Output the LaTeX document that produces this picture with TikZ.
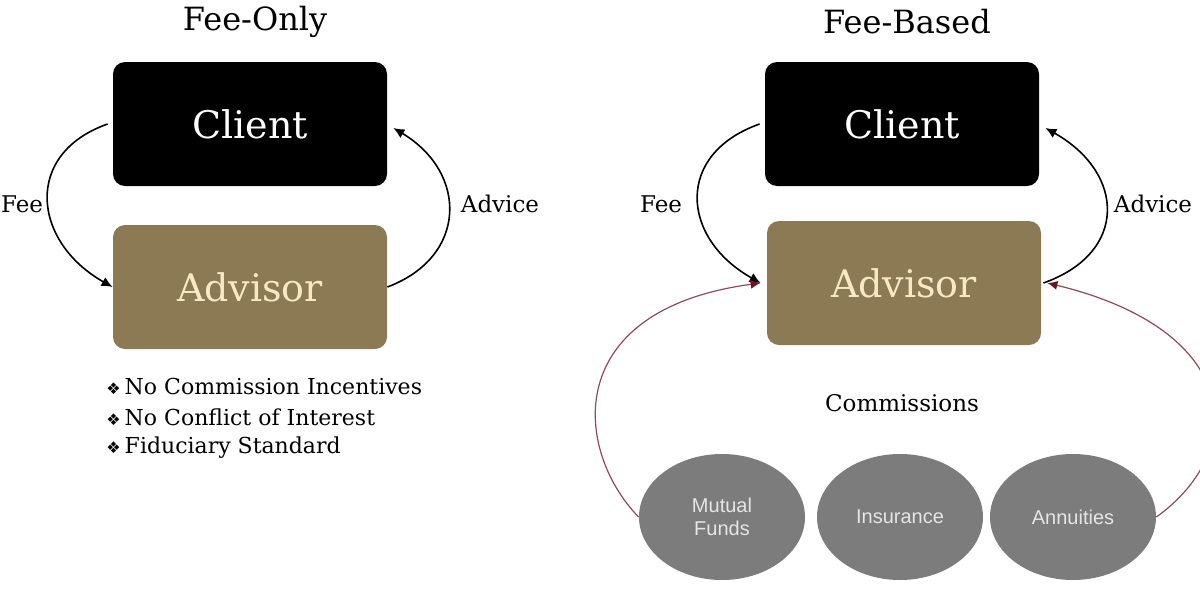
\documentclass[tikz,border=0pt]{standalone}
\usepackage{fontspec}
\setmainfont{DejaVu Serif}
\newfontfamily\dingfont{DejaVu Sans}
\newfontfamily\ovalfont{Liberation Sans}
\usetikzlibrary{shapes.geometric,arrows.meta}
\definecolor{advbrown}{RGB}{140,122,84}
\definecolor{advtext}{RGB}{247,233,198}
\definecolor{ovalgray}{RGB}{124,124,124}
\definecolor{commred}{RGB}{140,75,90}
\definecolor{tipred}{RGB}{110,20,30}

\begin{document}
\begin{tikzpicture}[x=0.5pt,y=-0.5pt,
  clientbox/.style={fill=black, rounded corners=6pt, minimum width=137pt, minimum height=62pt, text=white, font=\fontsize{19}{22}\selectfont},
  advisorbox/.style={fill=advbrown, rounded corners=6pt, minimum width=137pt, minimum height=62pt, text=advtext, font=\fontsize{19}{22}\selectfont},
  heading/.style={font=\fontsize{16}{19}\selectfont},
  flowlabel/.style={font=\fontsize{11.5}{14}\selectfont},
  perk/.style={anchor=west, inner sep=0pt, font=\fontsize{11}{13}\selectfont},
  product/.style={ellipse, fill=ovalgray, minimum width=83pt, minimum height=63pt, text=white!90!black, align=center, font=\ovalfont\fontsize{10}{11.5}\selectfont},
  flow/.style={line width=0.8pt, -{Latex[length=5.5pt,width=5pt]}},
  commission/.style={draw=commred, line width=0.6pt, -{Latex[length=5pt,width=4.5pt,color=tipred]}}
]
\useasboundingbox (0,0) rectangle (1200,600);

% fee-only side
\node[heading] (titleL) at (255,22) {Fee-Only};
\node[clientbox] (clientL) at (250,124) {Client};
\node[advisorbox] (advisorL) at (250,287) {Advisor};
\node[flowlabel] (feeL) at (22,204) {Fee};
\node[flowlabel] (adviceL) at (500,204) {Advice};
\draw[flow] ([xshift=-2.5pt]clientL.west) .. controls +(-85,30) and +(-80,-45) .. (advisorL.west);
\draw[flow] (advisorL.east) .. controls +(80,-30) and +(75,45) .. ([xshift=3pt,yshift=-2pt]clientL.east);
\node[perk] (perkA) at (106,386) {{\dingfont\fontsize{8}{9}\selectfont ❖}\hspace{2pt}No Commission Incentives};
\node[perk] (perkB) at (106,417) {{\dingfont\fontsize{8}{9}\selectfont ❖}\hspace{2pt}No Conflict of Interest};
\node[perk] (perkC) at (106,448) {{\dingfont\fontsize{8}{9}\selectfont ❖}\hspace{2pt}Fiduciary Standard};

% fee-based side
\node[heading] (titleR) at (907,22) {Fee-Based};
\node[clientbox] (clientR) at (902,124) {Client};
\node[advisorbox] (advisorR) at (904,283) {Advisor};
\node[flowlabel] (feeR) at (661,204) {Fee};
\node[flowlabel] (adviceR) at (1153,204) {Advice};
\node[flowlabel] (comm) at (902,403) {Commissions};
\draw[flow] ([xshift=-2.5pt]clientR.west) .. controls +(-85,30) and +(-80,-45) .. ([xshift=-3pt]advisorR.west);
\draw[flow] ([xshift=1pt]advisorR.east) .. controls +(85,-30) and +(80,45) .. ([xshift=3pt,yshift=-2pt]clientR.east);

% products
\node[product] (mutual) at (722,517) {Mutual\\Funds};
\node[product] (insur) at (900,517) {Insurance};
\node[product] (annuity) at (1073,517) {Annuities};
\draw[commission] (mutual.west) .. controls +(-65,-67) and +(-200,27) .. ([xshift=-3pt]advisorR.west);
\draw[commission] (annuity.east) .. controls +(93,-67) and +(194,47) .. ([xshift=3pt]advisorR.east);
\end{tikzpicture}
\end{document}
